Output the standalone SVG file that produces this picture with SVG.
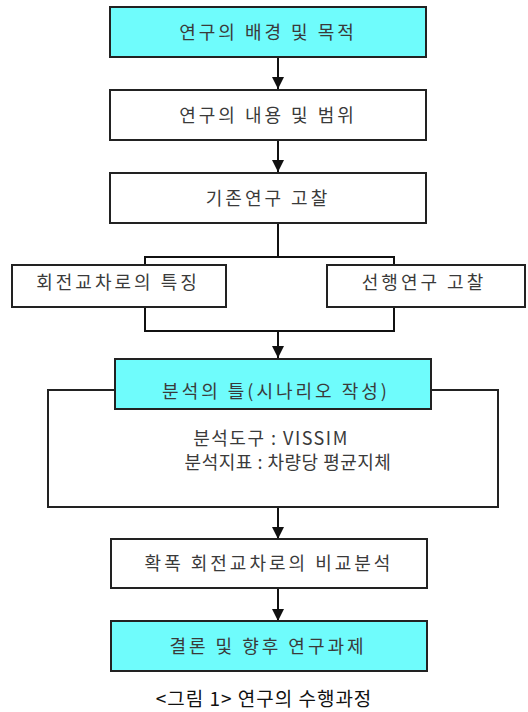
<svg xmlns="http://www.w3.org/2000/svg" width="528" height="712" viewBox="0 0 528 712">
<style>
.box{fill:#ffffff;stroke:#222;stroke-width:2}
.cyan{fill:#6ffcfc;stroke:#222;stroke-width:2}
.t{font-family:"Noto Sans CJK KR","Noto Sans",sans-serif;font-size:18px;fill:#3a3a3a;text-anchor:middle;letter-spacing:3px}
.ln{fill:none;stroke:#111;stroke-width:2}
</style>
<defs>
<marker id="ah" viewBox="0 0 12 12" refX="12" refY="6" markerWidth="12" markerHeight="12" markerUnits="userSpaceOnUse" orient="auto">
<path d="M0,0 L12,6 L0,12 Z" fill="#111"/>
</marker>
</defs>
<rect width="528" height="712" fill="#fff"/>
<g id="connectors">
<line class="ln" x1="278" y1="57" x2="278" y2="89" marker-end="url(#ah)"/>
<line class="ln" x1="278" y1="140" x2="278" y2="172" marker-end="url(#ah)"/>
<polyline class="ln" points="278,223 278,257"/>
<polyline class="ln" points="145,265 145,257 394,257 394,265"/>
<polyline class="ln" points="145,307 145,331 394,331 394,307"/>
<line class="ln" x1="278" y1="331" x2="278" y2="358" marker-end="url(#ah)"/>
<line class="ln" x1="278" y1="507" x2="278" y2="539" marker-end="url(#ah)"/>
<line class="ln" x1="278" y1="588" x2="278" y2="621" marker-end="url(#ah)"/>
</g>
<g id="n1"><rect class="cyan" x="110" y="7" width="316" height="50"/><text class="t" x="268" y="39">연구의 배경 및 목적</text></g>
<g id="n2"><rect class="box" x="110" y="90" width="316" height="50"/><text class="t" x="268" y="122">연구의 내용 및 범위</text></g>
<g id="n3"><rect class="box" x="110" y="173" width="316" height="50"/><text class="t" x="268" y="205">기존연구 고찰</text></g>
<g id="n4"><rect class="box" x="12" y="265" width="214" height="42"/><text class="t" x="118" y="289">회전교차로의 특징</text></g>
<g id="n5"><rect class="box" x="327" y="265" width="198" height="42"/><text class="t" x="424" y="289">선행연구 고찰</text></g>
<g id="n6">
<rect class="box" x="48" y="390" width="450" height="117"/>
<rect class="cyan" x="115" y="359" width="316" height="50"/>
<text class="t" x="276" y="398">분석의 틀(시나리오 작성)</text>
<text class="t" x="271" y="445" style="letter-spacing:1.5px">분석도구 : VISSIM</text>
<text class="t" x="288" y="469" style="letter-spacing:0.5px">분석지표 : 차량당 평균지체</text>
</g>
<g id="n7"><rect class="box" x="111" y="539" width="316" height="49"/><text class="t" x="269" y="570">확폭 회전교차로의 비교분석</text></g>
<g id="n8"><rect class="cyan" x="111" y="621" width="316" height="50"/><text class="t" x="268" y="653">결론 및 향후 연구과제</text></g>
<g id="caption"><text class="t" x="264" y="706" style="font-size:19px;fill:#111;letter-spacing:1px">&lt;그림 1&gt; 연구의 수행과정</text></g>
</svg>
